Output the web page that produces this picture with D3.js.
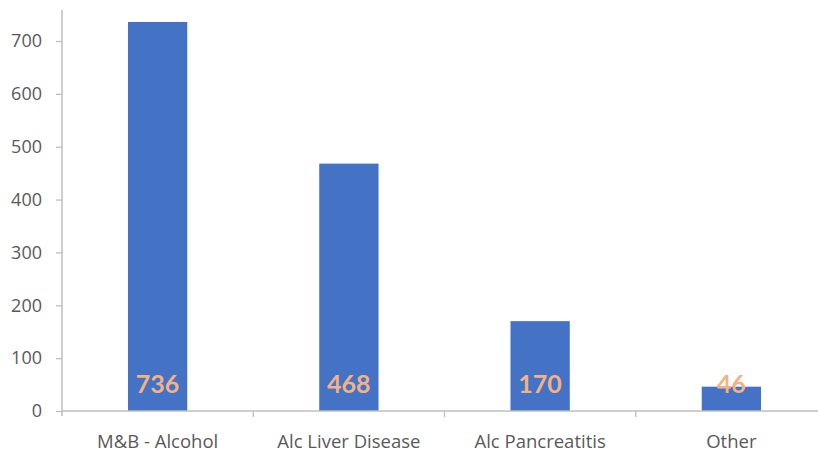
<!DOCTYPE html>
<html><head><meta charset="utf-8">
<script src="https://cdn.jsdelivr.net/npm/d3@7"></script>
<style>body{margin:0;background:#fff}svg{display:block}</style>
</head><body>
<svg id="c" width="818" height="454"></svg>
<script>
const categories = ["M&B - Alcohol", "Alc Liver Disease", "Alc Pancreatitis", "Other"];
const values = [736, 468, 170, 46];
const yTicks = [0, 100, 200, 300, 400, 500, 600, 700];

const svg = d3.select("#c");
const font = "'Open Sans', Lato, sans-serif";
const valFont = "Lato, 'Open Sans', sans-serif";
const x = d3.scaleBand().domain(categories).range([62, 827]).paddingInner(0.69).paddingOuter(0.345);
const y = d3.scaleLinear().domain([0, 700]).range([411, 41]);
const axisColor = "#bfbfbf";

// y axis
const ya = svg.append("g").attr("transform", "translate(62,0)")
  .call(d3.axisLeft(y).tickValues(yTicks).tickSize(6).tickPadding(14).tickFormat(d3.format("d")));
ya.select(".domain").remove();
ya.selectAll(".tick line").attr("stroke", axisColor).attr("stroke-width", 1.3);
ya.selectAll(".tick text").attr("fill", "#595959").style("font-family", font).style("font-size", "18px");
svg.append("line").attr("x1", 62).attr("x2", 62).attr("y1", 10).attr("y2", 416)
  .attr("stroke", axisColor).attr("stroke-width", 1.5);

// bars
svg.selectAll("rect.bar").data(values).join("rect").attr("class", "bar")
  .attr("x", (d, i) => x(categories[i])).attr("width", x.bandwidth())
  .attr("y", d => y(d)).attr("height", d => y(0) - y(d)).attr("fill", "#4472C4");

// x axis
svg.append("line").attr("x1", 62).attr("x2", 818).attr("y1", y(0)).attr("y2", y(0))
  .attr("stroke", axisColor).attr("stroke-width", 1.5);
const step = x.step();
svg.selectAll("line.xt").data(d3.range(1, 4)).join("line").attr("class", "xt")
  .attr("x1", i => 62 + i * step).attr("x2", i => 62 + i * step)
  .attr("y1", y(0)).attr("y2", y(0) + 6).attr("stroke", axisColor).attr("stroke-width", 1.3);
svg.selectAll("text.cat").data(categories).join("text").attr("class", "cat")
  .attr("x", d => x(d) + x.bandwidth() / 2).attr("y", 447.5).attr("text-anchor", "middle")
  .attr("fill", "#595959").style("font-family", font).style("font-size", "18.5px").text(d => d);

// value labels
svg.selectAll("text.val").data(values).join("text").attr("class", "val")
  .attr("x", (d, i) => x(categories[i]) + x.bandwidth() / 2).attr("y", 393).attr("text-anchor", "middle")
  .attr("fill", "#F4B183").style("font-family", valFont).style("font-weight", "bold").style("font-size", "25px")
  .text(d => d);
</script>
</body></html>
